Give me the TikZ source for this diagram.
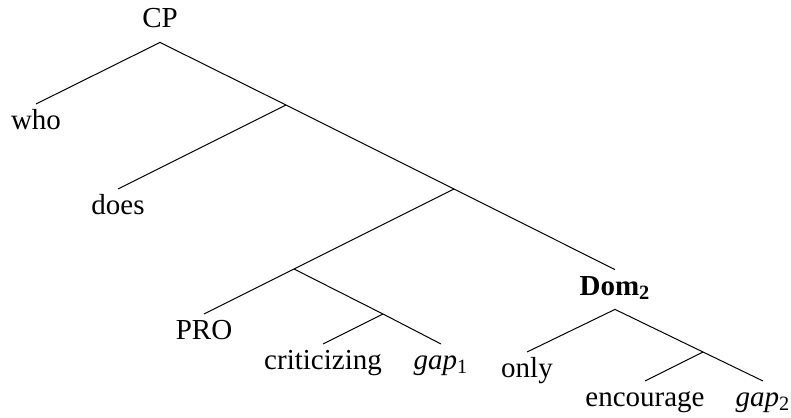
\documentclass[tikz,border=0pt]{standalone}
\usepackage{fontspec}
\setmainfont{Liberation Serif}
\begin{document}
\begin{tikzpicture}[x=0.5pt, y=-0.5pt,
    every node/.style={font=\fontsize{14.5}{17}\selectfont},
    word/.style={inner sep=0pt, text height=12.5pt, text depth=7pt},
    leaf/.style={word, anchor=north},
    branch/.style={line width=0.5pt, black}]
  \useasboundingbox (0,0) rectangle (791,417);

  % inner branching points
  \coordinate (n1) at (286,105);
  \coordinate (n2) at (454,189);
  \coordinate (n3) at (294,269);
  \coordinate (n4) at (383,314);
  \coordinate (n5) at (703,352);

  % labelled nodes
  \node[word, anchor=base] (cp) at (160,28) {CP};
  \node[word, anchor=base] (dom) at (615,295) {\textbf{Dom\textsubscript{2}}};
  \node[leaf] (who) at (36,104) {who};
  \node[leaf] (does) at (118,189) {does};
  \node[leaf] (pro) at (204,314) {PRO};
  \node[leaf] (crit) at (323,344) {criticizing};
  \node[leaf] (gapa) at (441,344) {\textit{gap}\textsubscript{1}};
  \node[leaf] (only) at (527,352) {only};
  \node[leaf] (enc) at (645,381) {encourage};
  \node[leaf] (gapb) at (763,381) {\textit{gap}\textsubscript{2}};

  % branches
  \draw[branch] (who.north) -- (cp.south) -- (n1) -- (n2) -- (dom.north);
  \draw[branch] (n1) -- (does.north);
  \draw[branch] (n2) -- (n3) -- (pro.north);
  \draw[branch] (n3) -- (n4) -- (gapa.north);
  \draw[branch] (n4) -- (crit.north);
  \draw[branch] (only.north) -- (dom.south) -- (n5) -- (gapb.north);
  \draw[branch] (n5) -- (enc.north);
\end{tikzpicture}
\end{document}
